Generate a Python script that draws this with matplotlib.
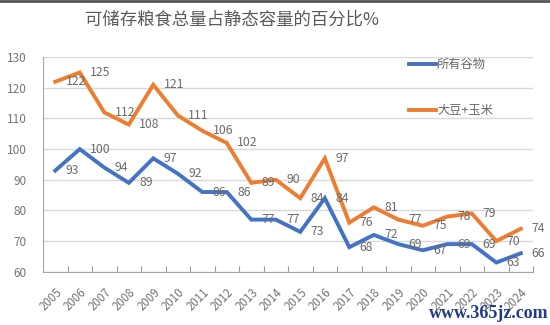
import matplotlib
matplotlib.use("Agg")
import matplotlib.pyplot as plt
from matplotlib.lines import Line2D

plt.rcParams['font.family'] = ['Noto Sans CJK SC', 'DejaVu Sans']

years = [str(y) for y in range(2005, 2025)]
all_grains = [93, 100, 94, 89, 97, 92, 86, 86, 77, 77, 73, 84, 68, 72, 69, 67, 69, 69, 63, 66]
soy_corn = [122, 125, 112, 108, 121, 111, 106, 102, 89, 90, 84, 97, 76, 81, 77, 75, 78, 79, 70, 74]
series_names = ['所有谷物', '大豆+玉米']
title = '可储存粮食总量占静态容量的百分比%'
yticks = [60, 70, 80, 90, 100, 110, 120, 130]

BLUE = '#4472C4'
ORANGE = '#ED7D31'
GRAY = '#6b6b6b'

fig = plt.figure(figsize=(5.5, 3.25), dpi=100)
ax = fig.add_axes([0.0782, 0.164, 0.891, 0.660])

x = list(range(len(years)))
l1, = ax.plot(x, all_grains, color=BLUE, lw=2.8, solid_joinstyle='miter', zorder=3)
l2, = ax.plot(x, soy_corn, color=ORANGE, lw=2.8, solid_joinstyle='miter', zorder=3)

for xi, v in zip(x, all_grains):
    ax.annotate(str(v), (xi, v), xytext=(7.5, 0), textcoords='offset points',
                ha='left', va='center', fontsize=8.8, color=GRAY, zorder=4)
for xi, v in zip(x, soy_corn):
    ax.annotate(str(v), (xi, v), xytext=(7.5, 0), textcoords='offset points',
                ha='left', va='center', fontsize=8.8, color=GRAY, zorder=4)

ax.set_xlim(-0.5, len(years) - 0.5)
ax.set_ylim(60, 130)
ax.set_yticks(yticks)
ax.set_xticks([i + 0.5 for i in range(len(years))], minor=True)
ax.set_xticks(x)
ax.set_xticklabels(years, rotation=45, ha='right', va='top', rotation_mode='anchor',
                   fontsize=8.3, color='#757575')
ax.tick_params(axis='x', which='major', length=0, pad=10)
ax.tick_params(axis='x', which='minor', direction='in', length=4, color='#999999', width=0.8)
ax.tick_params(axis='y', length=0, pad=12, labelsize=8.5, labelcolor='#757575')

ax.grid(axis='y', color='#d9d9d9', lw=1.0, zorder=0)
for s in ['top', 'right']:
    ax.spines[s].set_visible(False)
ax.spines['left'].set_color('#a6a6a6')
ax.spines['bottom'].set_color('#a6a6a6')
ax.spines['left'].set_linewidth(0.8)
ax.spines['bottom'].set_linewidth(0.8)

fig.text(232 / 550, 1 - 20 / 325, title, ha='center', va='center', fontsize=12.5, color='#595959')

leg = ax.legend([l1, l2], series_names, loc='upper left',
                bbox_to_anchor=(409 / 550, 1 - 58 / 325), bbox_transform=fig.transFigure,
                frameon=False, fontsize=8.8, handlelength=2.2, handletextpad=0.1,
                labelspacing=2.7, borderpad=0, borderaxespad=0)
for t in leg.get_texts():
    t.set_color('#666666')

fig.text(549 / 550, 1 - 313 / 325, 'www.365jz.com', ha='right', va='center', fontsize=13,
         color='#1f3c88', family='Liberation Serif', weight='bold')

fig.add_artist(Line2D([0, 1], [0.997, 0.997], transform=fig.transFigure, color='#555555', lw=2))

fig.savefig('out.png', dpi=100)
